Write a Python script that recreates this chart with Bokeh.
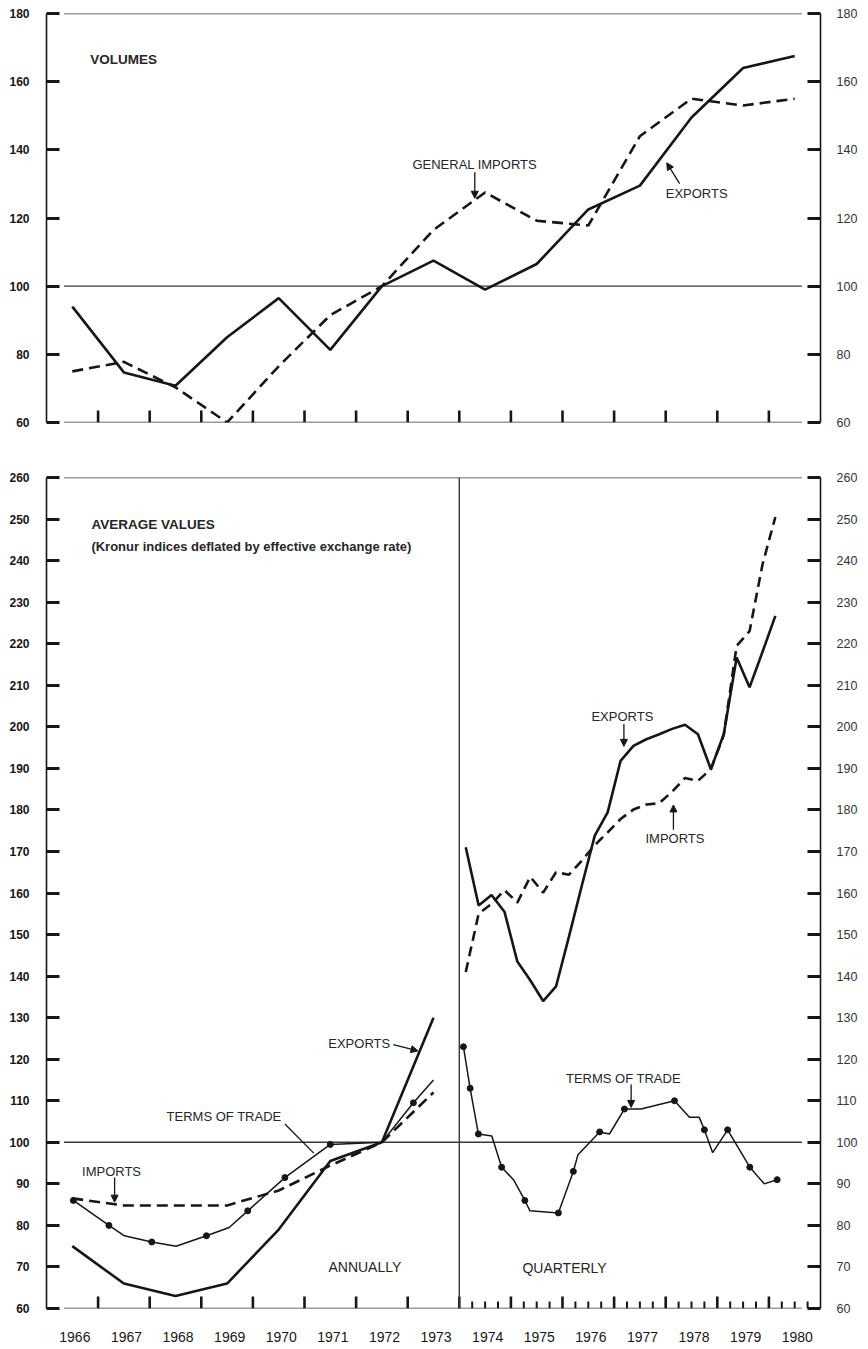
from bokeh.plotting import figure
from bokeh.models import (LinearAxis, FixedTicker, Range1d, Label, Arrow, NormalHead,
                          CustomJSTickFormatter, Span)
from bokeh.layouts import column
from bokeh.embed import file_html
from bokeh.resources import INLINE

# ---------------- data ----------------
# Volumes, annual index (1972 = 100)
vol_years = list(range(1966, 1981))
vol_exports = [94.0, 74.7, 70.8, 85.0, 96.5, 81.3, 100.0, 107.5, 99.0, 106.5,
               122.5, 129.5, 149.5, 164.0, 167.5]
vol_imports = [75.0, 77.8, 70.3, 60.0, 76.5, 91.5, 100.0, 116.5, 127.5, 119.2,
               117.8, 144.0, 155.0, 153.0, 155.0]

# Average values, annual 1966-1973
ann_years = list(range(1966, 1974))
ann_exports = [75.0, 66.0, 63.0, 66.0, 79.0, 95.5, 100.0, 130.0]
ann_imports = [86.5, 84.8, 84.8, 84.8, 88.4, 94.4, 100.0, 112.0]

# Terms of trade, annual section (time in fractional years); 1 = plotted point
ann_tot_t = [1966.52, 1967.21, 1967.51, 1968.04, 1968.51, 1969.10, 1969.54,
             1969.90, 1970.62, 1971.50, 1972.50, 1973.11, 1973.50]
ann_tot = [86.0, 80.0, 77.5, 76.0, 75.0, 77.5, 79.5, 83.5, 91.5, 99.5, 100.0,
           109.5, 115.0]
ann_tot_marked = [1, 1, 0, 1, 0, 1, 0, 1, 1, 1, 0, 1, 0]

# Average values, quarterly 1974Q1-1980Q1
quarters = [(y, q) for y in range(1974, 1981) for q in range(1, 5)][:25]
q_exports = [171.0, 157.0, 159.5, 155.5, 143.5, 139.0, 134.0, 137.5, 149.5,
             161.8, 173.8, 179.4, 191.8, 195.4, 197.0, 198.2, 199.5, 200.5,
             198.2, 189.8, 198.2, 216.7, 209.5, 218.0, 226.7]
q_imports = [141.0, 155.0, 157.4, 160.7, 157.7, 163.9, 160.1, 165.0, 164.4,
             167.8, 171.5, 174.6, 177.8, 180.1, 181.3, 181.6, 184.4, 187.7,
             187.0, 189.8, 198.0, 219.5, 223.0, 239.0, 250.5]

# Terms of trade, quarterly section
q_tot_t = [1974.08, 1974.21, 1974.37, 1974.63, 1974.82, 1975.05, 1975.27,
           1975.37, 1975.92, 1976.21, 1976.30, 1976.72, 1976.91, 1977.20,
           1977.52, 1978.17, 1978.46, 1978.65, 1978.75, 1978.91, 1979.20,
           1979.63, 1979.91, 1980.16]
q_tot = [123.0, 113.0, 102.0, 101.5, 94.0, 91.0, 86.0, 83.5, 83.0, 93.0, 97.0,
         102.5, 102.0, 108.0, 108.0, 110.0, 106.0, 106.0, 103.0, 97.5, 103.0,
         94.0, 90.0, 91.0]
q_tot_marked = [1, 1, 1, 0, 1, 0, 1, 0, 1, 1, 0, 1, 0, 1, 0, 1, 0, 0, 1, 0, 1,
                1, 0, 1]

vol_ticks = list(range(60, 181, 20))
val_ticks = list(range(60, 261, 10))
label_years = list(range(1966, 1981))

# ---------------- styling ----------------
INK = "#161616"
RULE = "#383838"
TEXT = "#262626"
SANS = "Liberation Sans"

X0, X1 = 1966, 1981
RULE_START, RULE_END = 1966.34, 1980.64


def mid(years):
    return [y + 0.5 for y in years]


def y_axes(p, ticks):
    left = LinearAxis(ticker=FixedTicker(ticks=ticks, minor_ticks=[]),
                      major_tick_in=13, major_tick_out=0,
                      minor_tick_in=0, minor_tick_out=0,
                      major_tick_line_width=3, major_tick_line_color=INK,
                      axis_line_width=1.6, axis_line_color=INK,
                      major_label_standoff=17,
                      major_label_text_font=SANS,
                      major_label_text_font_size="12px",
                      major_label_text_font_style="bold",
                      major_label_text_color=INK)
    right = LinearAxis(ticker=FixedTicker(ticks=ticks, minor_ticks=[]),
                       major_tick_in=13, major_tick_out=0,
                       minor_tick_in=0, minor_tick_out=0,
                       major_tick_line_width=3, major_tick_line_color=INK,
                       axis_line_width=1.6, axis_line_color=INK,
                       major_label_standoff=16,
                       major_label_text_font=SANS,
                       major_label_text_font_size="12.5px",
                       major_label_text_color="#333333")
    p.add_layout(left, "left")
    p.add_layout(right, "right")


def tick_marks(p, xs, base, length, width):
    # short upright marks standing on the baseline rule
    p.segment(x0=xs, x1=xs, y0=[base] * len(xs), y1=[base + length] * len(xs),
              line_color=INK, line_width=width)


def rules(p, levels):
    p.segment(x0=[RULE_START] * len(levels), x1=[RULE_END] * len(levels),
              y0=levels, y1=levels, line_color=RULE, line_width=1.4)


def note(p, x, y, text, size="13px", font=SANS, style="normal",
         align="center"):
    p.add_layout(Label(x=x, y=y, text=text, text_font=font,
                       text_font_size=size, text_font_style=style,
                       text_align=align, text_baseline="middle",
                       text_color=TEXT))


def pointer(p, xs, ys, xe, ye, head=True):
    p.add_layout(Arrow(x_start=xs, y_start=ys, x_end=xe, y_end=ye,
                       line_width=1.3, line_color=INK,
                       end=NormalHead(size=7, fill_color=INK, line_color=INK,
                                      line_width=1) if head else None))


def new_fig(height, y0, y1, left, right, top, bottom):
    p = figure(width=868, height=height, x_range=Range1d(X0, X1),
               y_range=Range1d(y0, y1), output_backend="svg",
               toolbar_location=None, x_axis_type=None, y_axis_type=None,
               min_border_left=left, min_border_right=right,
               min_border_top=top, min_border_bottom=bottom)
    p.outline_line_color = None
    p.background_fill_color = "white"
    p.border_fill_color = "white"
    return p


# ---------------- volumes panel ----------------
P1_FRAME_H = 409
p1 = new_fig(452, 60, 180, 46, 45, 13, 30)
y_axes(p1, vol_ticks)
u1 = 120 / P1_FRAME_H           # value units per screen pixel
tick_marks(p1, list(range(1967, 1981)), 60, 12 * u1, 2.6)
rules(p1, [180, 100, 60])

p1.line(mid(vol_years), vol_exports, line_color=INK, line_width=2.6)
p1.line(mid(vol_years), vol_imports, line_color=INK, line_width=2.6,
        line_dash="11 6")

note(p1, 1966.85, 166.5, "VOLUMES", size="13.5px", style="bold", align="left")
note(p1, 1974.3, 135.7, "GENERAL IMPORTS")
pointer(p1, 1974.3, 133.4, 1974.3, 125.8)
note(p1, 1978.6, 127.3, "EXPORTS")
pointer(p1, 1978.27, 130.1, 1978.02, 136.2)

# ---------------- average values panel ----------------
P2_FRAME_H = 831
p2 = new_fig(897, 60, 260, 43, 48, 25, 41)
y_axes(p2, val_ticks)
u2 = 200 / P2_FRAME_H
tick_marks(p2, list(range(1967, 1981)), 60, 12 * u2, 2.6)
quarter_marks = [y + f for y in range(1974, 1981) for f in (0.25, 0.5, 0.75)]
tick_marks(p2, quarter_marks, 60, 7 * u2, 2.0)

year_axis = LinearAxis(ticker=FixedTicker(ticks=[y + 0.55 for y in label_years],
                                          minor_ticks=[]),
                       formatter=CustomJSTickFormatter(
                           code="return String(Math.floor(tick));"),
                       major_tick_in=0, major_tick_out=0,
                       minor_tick_in=0, minor_tick_out=0,
                       axis_line_color=None,
                       major_label_standoff=23,
                       major_label_text_font=SANS,
                       major_label_text_font_size="14px",
                       major_label_text_color=INK)
p2.add_layout(year_axis, "below")

rules(p2, [260, 100, 60])
p2.add_layout(Span(location=1974, dimension="height", line_color=RULE,
                   line_width=1.4))

# annual section
p2.line(mid(ann_years), ann_exports, line_color=INK, line_width=2.6)
p2.line(mid(ann_years), ann_imports, line_color=INK, line_width=2.6,
        line_dash="11 6")
p2.line(ann_tot_t, ann_tot, line_color=INK, line_width=1.5)
p2.scatter([t for t, m in zip(ann_tot_t, ann_tot_marked) if m],
           [v for v, m in zip(ann_tot, ann_tot_marked) if m],
           size=6, marker="circle", color=INK)

# quarterly section
q_t = [y + (q - 0.5) / 4 for y, q in quarters]
p2.line(q_t, q_exports, line_color=INK, line_width=2.6)
p2.line(q_t, q_imports, line_color=INK, line_width=2.6, line_dash="10 6")
p2.line(q_tot_t, q_tot, line_color=INK, line_width=1.5)
p2.scatter([t for t, m in zip(q_tot_t, q_tot_marked) if m],
           [v for v, m in zip(q_tot, q_tot_marked) if m],
           size=6, marker="circle", color=INK)

note(p2, 1966.87, 248.6, "AVERAGE VALUES", size="13.5px", style="bold",
     align="left")
note(p2, 1966.87, 243.3, "(Kronur indices deflated by effective exchange rate)",
     size="13px", style="bold", align="left")

note(p2, 1972.06, 123.8, "EXPORTS")
pointer(p2, 1972.72, 123.5, 1973.2, 122.0)
note(p2, 1969.44, 106.2, "TERMS OF TRADE")
pointer(p2, 1970.62, 104.4, 1971.18, 97.4, head=False)
note(p2, 1967.26, 93.0, "IMPORTS")
pointer(p2, 1967.32, 91.5, 1967.32, 85.6)
note(p2, 1972.17, 70.1, "ANNUALLY", size="14px")
note(p2, 1976.04, 69.8, "QUARTERLY", size="14px")

note(p2, 1977.18, 115.3, "TERMS OF TRADE")
pointer(p2, 1977.33, 113.9, 1977.33, 108.4)
note(p2, 1977.16, 202.5, "EXPORTS")
pointer(p2, 1977.19, 200.7, 1977.19, 195.3)
note(p2, 1978.18, 173.0, "IMPORTS")
pointer(p2, 1978.15, 175.2, 1978.15, 181.2)

layout = column(p1, p2)
open("out.html", "w").write(file_html(layout, INLINE))
